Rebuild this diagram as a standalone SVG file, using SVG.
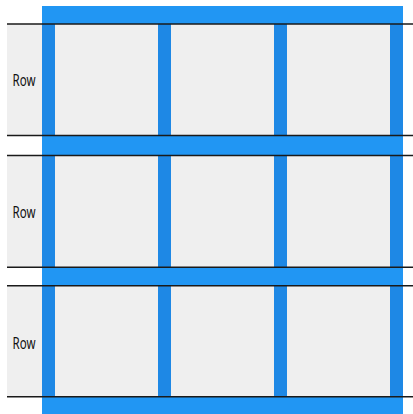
<svg xmlns="http://www.w3.org/2000/svg" width="413" height="414" viewBox="0 0 413 414">
  <style>
    .bg { fill: #ffffff; }
    .frame { fill: #2196F3; }
    .row { fill: #EFEFEF; }
    .col { fill: #1E88E5; }
    .rule { stroke: #1a1a1a; stroke-width: 1.6; fill: none; }
    .label { font-family: "Noto Sans", "Open Sans", sans-serif; font-size: 17px; fill: #111; }
  </style>
  <rect class="bg" x="0" y="0" width="413" height="414"/>
  <rect id="grid" class="frame" x="42" y="6" width="361" height="408"/>

  <g id="row1">
    <rect class="row" x="7" y="24" width="396" height="111.5"/>
    <rect class="col" x="42" y="24" width="13" height="111.5"/>
    <rect class="col" x="158" y="24" width="13" height="111.5"/>
    <rect class="col" x="274" y="24" width="13" height="111.5"/>
    <rect class="col" x="390" y="24" width="13" height="111.5"/>
    <text class="label" x="12.5" y="86" textLength="23" lengthAdjust="spacingAndGlyphs">Row</text>
  </g>
  <g id="row2">
    <rect class="row" x="7" y="155.5" width="396" height="111.7"/>
    <rect class="col" x="42" y="155.5" width="13" height="111.7"/>
    <rect class="col" x="158" y="155.5" width="13" height="111.7"/>
    <rect class="col" x="274" y="155.5" width="13" height="111.7"/>
    <rect class="col" x="390" y="155.5" width="13" height="111.7"/>
    <text class="label" x="12.5" y="218.3" textLength="23" lengthAdjust="spacingAndGlyphs">Row</text>
  </g>
  <g id="row3">
    <rect class="row" x="7" y="285.8" width="396" height="111"/>
    <rect class="col" x="42" y="285.8" width="13" height="111"/>
    <rect class="col" x="158" y="285.8" width="13" height="111"/>
    <rect class="col" x="274" y="285.8" width="13" height="111"/>
    <rect class="col" x="390" y="285.8" width="13" height="111"/>
    <text class="label" x="12.5" y="348.7" textLength="23" lengthAdjust="spacingAndGlyphs">Row</text>
  </g>

  <g id="connectors">
    <line class="rule" x1="7" y1="24" x2="413" y2="24"/>
    <line class="rule" x1="7" y1="135.5" x2="413" y2="135.5"/>
    <line class="rule" x1="7" y1="155.5" x2="413" y2="155.5"/>
    <line class="rule" x1="7" y1="267.2" x2="413" y2="267.2"/>
    <line class="rule" x1="7" y1="285.8" x2="413" y2="285.8"/>
    <line class="rule" x1="7" y1="396.8" x2="413" y2="396.8"/>
  </g>
</svg>
